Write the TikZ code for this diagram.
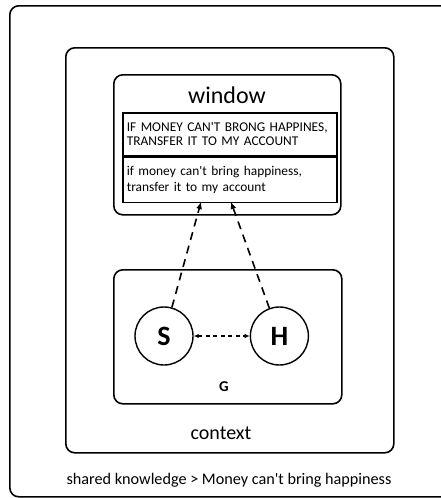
\documentclass[tikz,border=0pt]{standalone}
\usepackage{fontspec}
\setmainfont{Carlito}
\usetikzlibrary{positioning, arrows.meta}

\tikzset{
    frame/.style={draw, line width=1.6pt, rounded corners=9pt, inner sep=0pt},
    msgbox/.style={draw, line width=1.6pt, minimum width=213pt, text width=206pt, align=left, inner xsep=4pt, inner ysep=4pt},
    agent/.style={draw, line width=1.4pt, circle, minimum size=58pt, inner sep=0pt, font=\bfseries\fontsize{28}{30}\selectfont},
    link/.style={line width=1.6pt, dash pattern=on 8pt off 6pt, -{Latex[length=7pt,width=6pt]}},
    mutual/.style={line width=1.2pt, dash pattern=on 4pt off 3.5pt, {Latex[length=5pt,width=4.5pt]}-{Latex[length=5pt,width=4.5pt]}}
}
\newcommand{\sq}{\textquotesingle}

\begin{document}
\begin{tikzpicture}[x=1pt, y=-1pt]
        \useasboundingbox (0,0) rectangle (441,498);
        \node[frame, minimum width=470pt, minimum height=491pt, anchor=north west] (shared) at (9,5) {};
        \node[frame, minimum width=328pt, minimum height=405pt, anchor=north west] (context) at (65,47) {};
        \node[frame, minimum width=227pt, minimum height=140pt, anchor=north west] (window) at (113,74) {};
        \node[frame, minimum width=228pt, minimum height=134pt, anchor=north west] (G) at (113,269) {};
        %---------------------------
        \node[font=\fontsize{24}{28}\selectfont] (wtitle) at (227,95) {window};
        \node[msgbox, minimum height=43pt, anchor=north west, font=\fontsize{13.4}{14}\selectfont] (caps) at (122,112) {IF MONEY CAN\sq T BRONG HAPPINES,\\TRANSFER IT TO MY ACCOUNT};
        \node[msgbox, minimum height=45pt, below=0pt of caps, font=\fontsize{13.4}{16.5}\selectfont] (lower) {if money can\sq t bring happiness,\\transfer it to my account};
        \coordinate (tipS) at (201,202);
        \coordinate (tipH) at (231,202);
        %---------------------------
        \node[agent] (S) at (164,336) {S};
        \node[agent, right=56pt of S] (H) {H};
        \node[font=\bfseries\fontsize{15}{17}\selectfont] (glabel) at (224,387) {G};
        \node[font=\fontsize{20}{24}\selectfont] (ctxlabel) at (221,433) {context};
        \node[font=\fontsize{16.2}{19}\selectfont] (knowledge) at (229,480) {shared knowledge > Money can\sq t bring happiness};
        %--------------------------
        \draw[link] (S) -- (tipS);
        \draw[link] (H) -- (tipH);
        \draw[mutual] (S) -- (H);
\end{tikzpicture}
\end{document}
